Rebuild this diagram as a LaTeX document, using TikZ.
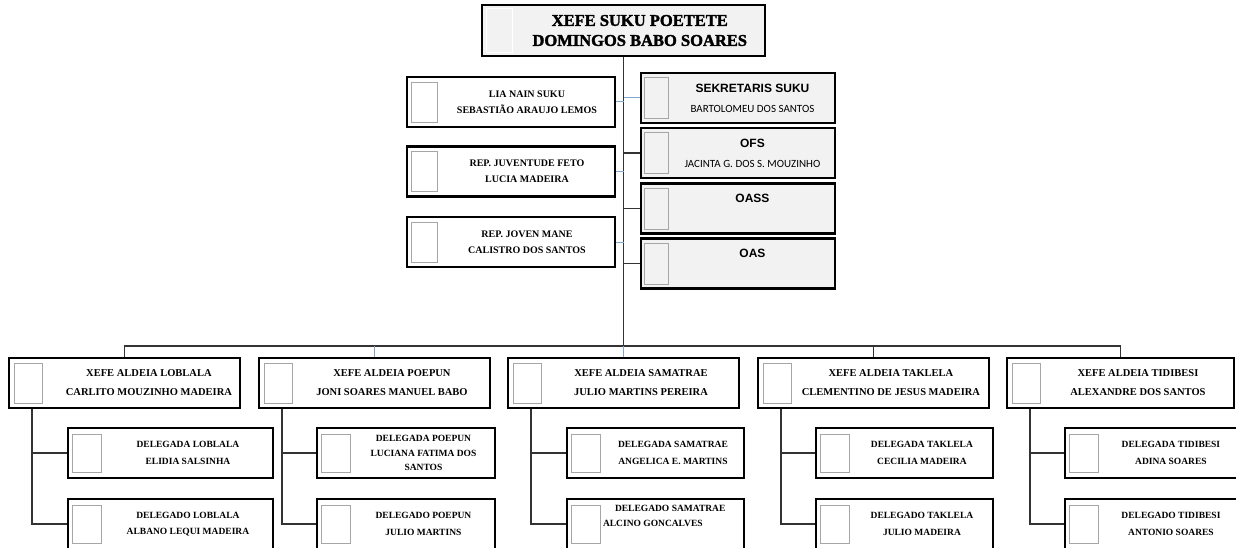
\documentclass[tikz,border=0pt]{standalone}
\usepackage{fontspec}
\setmainfont{Liberation Serif}
\newfontfamily\arialfont{Liberation Sans}
\newfontfamily\calibrifont{Carlito}
\newfontfamily\heavyfont{Liberation Serif}[BoldFeatures={FakeBold=2}]
\usepackage{tikz}
\usetikzlibrary{calc}
\usetikzlibrary{positioning}
\definecolor{boxgray}{HTML}{F2F2F2}
\definecolor{linkblue}{RGB}{130,165,205}
\definecolor{linkdark}{HTML}{333333}

\tikzset{
  unit/.style={draw=black, line width=2.2pt, minimum height=50pt, inner sep=0pt},
  unitgray/.style={unit, fill=boxgray},
  photo/.style={draw=gray!70, line width=0.9pt, fill=white, minimum width=28pt, minimum height=40pt, inner sep=0pt},
  link/.style={draw=linkdark, line width=1.3pt},
  linkb/.style={draw=linkblue, line width=1pt},
  toptxt/.style={align=center, inner sep=0pt, font=\heavyfont\bfseries\fontsize{16.5}{20}\selectfont},
  sidetxt/.style={align=center, inner sep=0pt, font=\bfseries\fontsize{10}{16}\selectfont},
  orgtxt/.style={align=center, inner sep=0pt, font=\calibrifont\fontsize{11}{20}\selectfont},
  xefetxt/.style={align=center, inner sep=0pt, font=\bfseries\fontsize{10.5}{19}\selectfont},
  deltxt/.style={align=center, inner sep=0pt, font=\bfseries\fontsize{9.5}{16.5}\selectfont}
}
\newcommand{\orgtitle}[1]{{\arialfont\bfseries\fontsize{12}{20}\selectfont #1}}

\begin{document}
\begin{tikzpicture}[x=1pt,y=-1pt]
    \useasboundingbox (0,0) rectangle (1236,548);
    \clip (0,0) rectangle (1236,548);

    % Suku head
    \node[unitgray, minimum width=283pt, minimum height=51pt] (top) at (623.5,30.5) {};
    \node[photo, draw=white, line width=1.5pt, fill=boxgray, minimum width=26pt, minimum height=44pt, right=5pt of top.west] (p-top) {};
    \node[toptxt] (t-top) at ($(p-top.east)!0.5!(top.east)$) {XEFE SUKU POETETE\\DOMINGOS BABO SOARES};

    % Left column
    \node[unit, minimum width=208pt] (lia) at (511,102) {};
    \node[unit, minimum width=208pt] (juv) at (511,171.5) {};
    \node[unit, minimum width=208pt] (jov) at (511,242) {};
    \foreach \n in {lia,juv,jov}
      \node[photo, minimum width=26pt, right=5pt of \n.west] (p-\n) {};
    \node[sidetxt] (t-lia) at ($(p-lia.east)!0.5!(lia.east)$) {LIA NAIN SUKU\\SEBASTIÃO ARAUJO LEMOS};
    \node[sidetxt] (t-juv) at ($(p-juv.east)!0.5!(juv.east)$) {REP. JUVENTUDE FETO\\LUCIA MADEIRA};
    \node[sidetxt] (t-jov) at ($(p-jov.east)!0.5!(jov.east)$) {REP. JOVEN MANE\\CALISTRO DOS SANTOS};

    % Right column
    \node[unitgray, minimum width=194pt] (sek) at (738,98) {};
    \node[unitgray, minimum width=194pt] (ofs) at (738,153) {};
    \node[unitgray, minimum width=194pt] (oass) at (738,208.5) {};
    \node[unitgray, minimum width=194pt] (oas) at (738,263.5) {};
    \foreach \n in {sek,ofs,oass,oas}
      \node[photo, fill=boxgray, minimum width=24pt, minimum height=41pt, right=4pt of \n.west] (p-\n) {};
    \node[orgtxt] (t-sek) at ($(p-sek.east)!0.5!(sek.east)$) {\orgtitle{SEKRETARIS SUKU}\\BARTOLOMEU DOS SANTOS};
    \node[orgtxt] (t-ofs) at ($(p-ofs.east)!0.5!(ofs.east)$) {\orgtitle{OFS}\\JACINTA G. DOS S. MOUZINHO};
    \node[orgtxt] (t-oass) at ($(p-oass.east)!0.5!(oass.east) + (0,-10)$) {\orgtitle{OASS}};
    \node[orgtxt] (t-oas) at ($(p-oas.east)!0.5!(oas.east) + (0,-10)$) {\orgtitle{OAS}};

    % Aldeia heads
    \node[unit, minimum width=231pt] (x-lob) at (124.5,383) {};
    \node[unit, minimum width=231pt] (x-poe) at (374.5,383) {};
    \node[unit, minimum width=231pt] (x-sam) at (623.5,383) {};
    \node[unit, minimum width=231pt] (x-tak) at (873.5,383) {};
    \node[unit, minimum width=227pt] (x-tid) at (1120.5,383) {};

    % Delegates
    \node[unit, minimum width=205pt] (da-lob) at (170.5,453) {};
    \node[unit, minimum width=178pt] (da-poe) at (406,453) {};
    \node[unit, minimum width=177pt] (da-sam) at (655.5,453) {};
    \node[unit, minimum width=177pt] (da-tak) at (904.5,453) {};
    \node[unit, minimum width=177pt] (da-tid) at (1153.5,453) {};
    \node[unit, minimum width=205pt] (do-lob) at (170.5,524) {};
    \node[unit, minimum width=178pt] (do-poe) at (406,524) {};
    \node[unit, minimum width=177pt] (do-sam) at (655.5,524) {};
    \node[unit, minimum width=177pt] (do-tak) at (904.5,524) {};
    \node[unit, minimum width=177pt] (do-tid) at (1153.5,524) {};

    \foreach \v in {lob,poe,sam,tak,tid} {
      \node[photo, right=6pt of x-\v.west] (p-x-\v) {};
      \node[photo, minimum width=29pt, minimum height=38pt, right=5pt of da-\v.west] (p-da-\v) {};
      \node[photo, minimum width=29pt, minimum height=38pt, right=5pt of do-\v.west] (p-do-\v) {};
    }

    \node[xefetxt] (t-x-lob) at ($(p-x-lob.east)!0.5!(x-lob.east) + (7,0)$) {XEFE ALDEIA LOBLALA\\CARLITO MOUZINHO MADEIRA};
    \node[xefetxt] (t-x-poe) at ($(p-x-poe.east)!0.5!(x-poe.east)$) {XEFE ALDEIA POEPUN\\JONI SOARES MANUEL BABO};
    \node[xefetxt] (t-x-sam) at ($(p-x-sam.east)!0.5!(x-sam.east)$) {XEFE ALDEIA SAMATRAE\\JULIO MARTINS PEREIRA};
    \node[xefetxt] (t-x-tak) at ($(p-x-tak.east)!0.5!(x-tak.east)$) {XEFE ALDEIA TAKLELA\\CLEMENTINO DE JESUS MADEIRA};
    \node[xefetxt] (t-x-tid) at ($(p-x-tid.east)!0.5!(x-tid.east)$) {XEFE ALDEIA TIDIBESI\\ALEXANDRE DOS SANTOS};

    \node[deltxt] (t-da-lob) at ($(p-da-lob.east)!0.5!(da-lob.east)$) {DELEGADA LOBLALA\\ELIDIA SALSINHA};
    \node[deltxt, font=\bfseries\fontsize{9.5}{14.5}\selectfont] (t-da-poe) at ($(p-da-poe.east)!0.5!(da-poe.east)$) {DELEGADA POEPUN\\LUCIANA FATIMA DOS\\SANTOS};
    \node[deltxt] (t-da-sam) at ($(p-da-sam.east)!0.5!(da-sam.east)$) {DELEGADA SAMATRAE\\ANGELICA E. MARTINS};
    \node[deltxt] (t-da-tak) at ($(p-da-tak.east)!0.5!(da-tak.east)$) {DELEGADA TAKLELA\\CECILIA MADEIRA};
    \node[deltxt] (t-da-tid) at ($(p-da-tid.east)!0.5!(da-tid.east)$) {DELEGADA TIDIBESI\\ADINA SOARES};
    \node[deltxt] (t-do-lob) at ($(p-do-lob.east)!0.5!(do-lob.east)$) {DELEGADO LOBLALA\\ALBANO LEQUI MADEIRA};
    \node[deltxt] (t-do-poe) at ($(p-do-poe.east)!0.5!(do-poe.east)$) {DELEGADO POEPUN\\JULIO MARTINS};
    \node[deltxt, font=\bfseries\fontsize{9.5}{15}\selectfont, align=left, anchor=west] (t-do-sam) at ([xshift=2pt, yshift=8pt]p-do-sam.east) {\hspace*{12pt}DELEGADO SAMATRAE\\ALCINO GONCALVES};
    \node[deltxt] (t-do-tak) at ($(p-do-tak.east)!0.5!(do-tak.east)$) {DELEGADO TAKLELA\\JULIO MADEIRA};
    \node[deltxt] (t-do-tid) at ($(p-do-tid.east)!0.5!(do-tid.east)$) {DELEGADO TIDIBESI\\ANTONIO SOARES};

    % Connectors
    \coordinate (bus) at (623.5,346);
    \draw[link] (top.south) -- (bus);
    \draw[linkb] (lia.east) -- (lia.east -| top.south);
    \draw[linkb] (juv.east) -- (juv.east -| top.south);
    \draw[linkb] (jov.east) -- (jov.east -| top.south);
    \draw[linkb] (sek.west) -- (sek.west -| top.south);
    \draw[link] (ofs.west) -- (ofs.west -| top.south);
    \draw[link] (oass.west) -- (oass.west -| top.south);
    \draw[link] (oas.west) -- (oas.west -| top.south);

    \draw[link] (x-lob.north) |- (bus) -| (x-tid.north);
    \draw[linkb] (x-poe.north) -- (x-poe.north |- bus);
    \draw[linkb] (bus) -- (x-sam.north);
    \draw[link] (x-tak.north) -- (x-tak.north |- bus);

    \foreach \v in {lob,poe,sam,tak,tid} {
      \coordinate (s-\v) at ([xshift=24pt]x-\v.south west);
      \draw[link] (s-\v) |- (do-\v.west);
      \draw[link] (da-\v.west) -- (da-\v.west -| s-\v);
    }
\end{tikzpicture}
\end{document}
